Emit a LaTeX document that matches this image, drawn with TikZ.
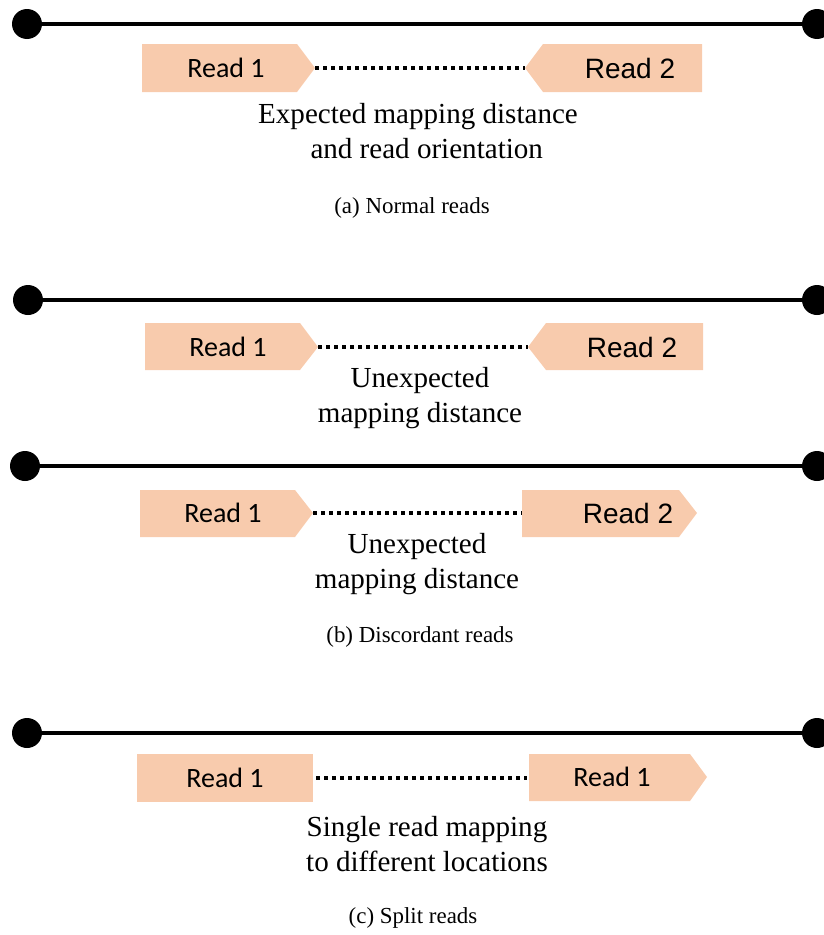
\documentclass[tikz,border=0pt]{standalone}
\usepackage{fontspec}
\setmainfont{Liberation Serif}
\newfontfamily\calibrilike{Carlito}
\newfontfamily\ariallike{Liberation Sans}
\definecolor{readfill}{HTML}{F8CBAD}
\tikzset{
  track/.style={line width=3.4pt},
  endpt/.style={circle, fill=black, inner sep=0pt, minimum size=22.5pt},
  readbox/.style={fill=readfill},
  gapline/.style={line width=3pt, dash pattern=on 3pt off 3pt},
  lblA/.style={inner sep=0pt, font=\calibrilike\fontsize{21}{25}\selectfont},
  lblB/.style={inner sep=0pt, font=\ariallike\fontsize{21}{25}\selectfont},
  note/.style={inner sep=0pt, align=center, font=\fontsize{21.8}{26.2}\selectfont},
  subcap/.style={inner sep=0pt, font=\fontsize{17.2}{20}\selectfont},
}
\begin{document}
\begin{tikzpicture}[x=0.75pt, y=-0.75pt]
\useasboundingbox (0,0) rectangle (824,935);

% ---------- (a) normal reads ----------
\node[endpt] (a-l) at (27,24) {};
\node[endpt] (a-r) at (817,24) {};
\draw[track] (a-l.center) -- (a-r.center);
\fill[readbox] (142,44) -- (297,44) -- (315,68) -- (297,92) -- (142,92) -- cycle;
\coordinate (a1tip) at (315,68);
\node[lblA] (a1) at (226,68) {Read 1};
\fill[readbox] (702,44) -- (543,44) -- (525,68) -- (543,92) -- (702,92) -- cycle;
\coordinate (a2tip) at (525,68);
\node[lblB] (a2) at (630,68) {Read 2};
\draw[gapline] (a1tip) -- (a2tip);
\node[note] (anote) at (418,131) {Expected mapping distance\\\hspace*{0.6em}and read orientation};
\node[subcap] (acap) at (412,208) {(a) Normal reads};

% ---------- (b) discordant reads, distance ----------
\node[endpt] (b-l) at (28,300) {};
\node[endpt] (b-r) at (817,300) {};
\draw[track] (b-l.center) -- (b-r.center);
\fill[readbox] (145,323) -- (300,323) -- (318,347) -- (300,370) -- (145,370) -- cycle;
\coordinate (b1tip) at (318,347);
\node[lblA] (b1) at (228,347) {Read 1};
\fill[readbox] (703,323) -- (546,323) -- (528,347) -- (546,370) -- (703,370) -- cycle;
\coordinate (b2tip) at (528,347);
\node[lblB] (b2) at (632,347) {Read 2};
\draw[gapline] (b1tip) -- (b2tip);
\node[note] (bnote) at (420,398) {Unexpected\\mapping distance};

% ---------- (b) discordant reads, orientation ----------
\node[endpt] (c-l) at (25,466) {};
\node[endpt] (c-r) at (817,466) {};
\draw[track] (c-l.center) -- (c-r.center);
\fill[readbox] (140,490) -- (295,490) -- (313,513) -- (295,537) -- (140,537) -- cycle;
\coordinate (c1tip) at (313,513);
\node[lblA] (c1) at (223,513) {Read 1};
\fill[readbox] (522,490) -- (679,490) -- (697,513) -- (679,537) -- (522,537) -- cycle;
\coordinate (c2back) at (522,513);
\node[lblB] (c2) at (628,513) {Read 2};
\draw[gapline] (c1tip) -- (c2back);
\node[note] (cnote) at (417,564) {Unexpected\\mapping distance};
\node[subcap] (bcap) at (420,637) {(b) Discordant reads};

% ---------- (c) split reads ----------
\node[endpt] (d-l) at (27,733) {};
\node[endpt] (d-r) at (817,733) {};
\draw[track] (d-l.center) -- (d-r.center);
\fill[readbox] (137,754) rectangle (313,802);
\coordinate (d1end) at (316,778);
\node[lblA] (d1) at (225,778) {Read 1};
\fill[readbox] (529,754) -- (690,754) -- (707,777) -- (690,801) -- (529,801) -- cycle;
\coordinate (d2back) at (527,778);
\node[lblA] (d2) at (612,777) {Read 1};
\draw[gapline] (d1end) -- (d2back);
\node[note] (dnote) at (427,844) {Single read mapping\\to different locations};
\node[subcap] (ccap) at (413,918) {(c) Split reads};
\end{tikzpicture}
\end{document}
